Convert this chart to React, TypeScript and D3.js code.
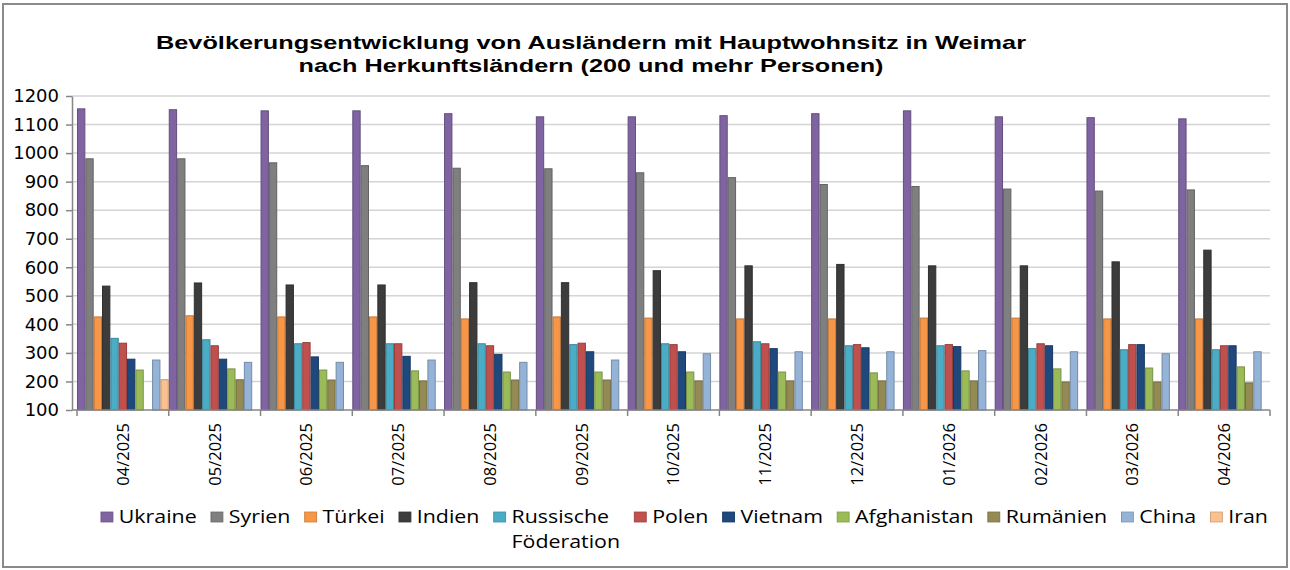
import React, { useEffect, useRef } from "react";
import * as d3 from "d3";

// Monate (Kategorien)
const months = [
  "04/2025", "05/2025", "06/2025", "07/2025", "08/2025", "09/2025", "10/2025",
  "11/2025", "12/2025", "01/2026", "02/2026", "03/2026", "04/2026",
];

const countries = [
  "Ukraine", "Syrien", "Türkei", "Indien", "Russische Föderation", "Polen",
  "Vietnam", "Afghanistan", "Rumänien", "China", "Iran",
];

// Werte je Herkunftsland
const ukraine = [1155, 1152, 1148, 1148, 1138, 1127, 1127, 1131, 1138, 1148, 1127, 1124, 1120];
const syrien = [980, 980, 966, 956, 947, 945, 931, 914, 890, 883, 874, 867, 871];
const tuerkei = [426, 430, 426, 426, 419, 426, 422, 419, 419, 422, 422, 419, 419];
const indien = [534, 545, 538, 538, 546, 546, 588, 605, 610, 605, 605, 619, 660];
const russland = [351, 346, 332, 332, 332, 329, 332, 339, 325, 325, 315, 311, 311];
const polen = [334, 325, 336, 332, 325, 334, 329, 332, 329, 329, 332, 329, 325];
const vietnam = [278, 278, 286, 288, 295, 304, 304, 315, 318, 322, 325, 329, 325];
const afghanistan = [240, 244, 240, 237, 233, 233, 233, 233, 230, 237, 244, 247, 251];
const rumaenien = [null, 206, 205, 202, 205, 205, 202, 202, 202, 202, 198, 198, 195];
const china = [275, 267, 267, 275, 267, 275, 297, 304, 304, 308, 304, 297, 304];
const iran = [206, null, null, null, null, null, null, null, null, null, null, null, null];

const seriesValues: (number | null)[][] = [
  ukraine, syrien, tuerkei, indien, russland, polen, vietnam, afghanistan, rumaenien, china, iran,
];

const colors = [
  "#8064A2", "#7F7F7F", "#F79646", "#3C3C3C", "#4BACC6", "#C0504D",
  "#1F497D", "#9BBB59", "#948A54", "#95B3D7", "#FAC090",
];

const yTicks = [100, 200, 300, 400, 500, 600, 700, 800, 900, 1000, 1100, 1200];

const titleLines = [
  "Bevölkerungsentwicklung von Ausländern mit Hauptwohnsitz in Weimar",
  "nach Herkunftsländern (200 und mehr Personen)",
];

const W = 1290;
const H = 570;

export default function App() {
  const svgRef = useRef<SVGSVGElement>(null);

  useEffect(() => {
    document.body.style.margin = "0";
    const svg = d3.select(svgRef.current);
    svg.selectAll("*").remove();

    const plotLeft = 77, plotRight = 1270, axisX = 72;
    const x0 = d3.scaleBand().domain(months).range([plotLeft, plotRight]).padding(0);
    const x1 = d3.scaleBand().domain(countries).range([0, x0.bandwidth()]).padding(0);
    const y = d3.scaleLinear().domain([100, 1200]).range([410, 96]);

    // Rahmen
    svg.append("rect")
      .attr("x", 3).attr("y", 4).attr("width", W - 6).attr("height", H - 7)
      .attr("fill", "#fff").attr("stroke", "#8a8a8a").attr("stroke-width", 2);

    // Titel
    svg.append("g")
      .selectAll("text")
      .data(titleLines)
      .join("text")
      .attr("x", 591)
      .attr("y", (d, i) => 49 + i * 23)
      .attr("text-anchor", "middle")
      .attr("font-family", "'Liberation Sans', Arial, sans-serif")
      .attr("font-weight", "bold")
      .attr("font-size", 19)
      .attr("textLength", (d, i) => (i === 0 ? 870 : 585))
      .attr("lengthAdjust", "spacingAndGlyphs")
      .text((d) => d);

    // Gitterlinien
    svg.append("g")
      .selectAll("line")
      .data(yTicks.slice(1))
      .join("line")
      .attr("x1", axisX).attr("x2", plotRight)
      .attr("y1", (d) => y(d)).attr("y2", (d) => y(d))
      .attr("stroke", "#d4d4d4").attr("stroke-width", 1.5);

    // Balken
    const groups = svg.append("g")
      .selectAll("g")
      .data(countries)
      .join("g")
      .attr("fill", (d, i) => colors[i])
      .attr("stroke", (d, i) => d3.color(colors[i])!.darker(0.7).formatHex());

    groups.selectAll("rect")
      .data((c, i) =>
        months
          .map((m, j) => ({ c, m, v: seriesValues[i][j] }))
          .filter((d) => d.v != null)
      )
      .join("rect")
      .attr("x", (d) => x0(d.m)! + x1(d.c)! + 0.5)
      .attr("width", x1.bandwidth() - 1)
      .attr("y", (d) => y(d.v as number))
      .attr("height", (d) => y(100) - y(d.v as number))
      .attr("stroke-width", 1);

    // Y-Achse
    const yAxis = svg.append("g")
      .attr("transform", `translate(${axisX},0)`)
      .call(d3.axisLeft(y).tickValues(yTicks).tickSize(6).tickSizeOuter(0).tickPadding(7).tickFormat(d3.format("d")));
    yAxis.select(".domain").attr("stroke", "#868686").attr("stroke-width", 1.5);
    yAxis.selectAll(".tick line").attr("stroke", "#868686").attr("stroke-width", 1.5);
    yAxis.selectAll("text")
      .attr("font-family", "'DejaVu Sans', Verdana, sans-serif")
      .attr("font-size", 18)
      .attr("fill", "#000");

    // X-Achse
    svg.append("line")
      .attr("x1", axisX).attr("x2", plotRight)
      .attr("y1", y(100)).attr("y2", y(100))
      .attr("stroke", "#868686").attr("stroke-width", 1.5);
    const boundaries = [...months.map((m) => x0(m)!), plotRight];
    svg.append("g")
      .selectAll("line")
      .data(boundaries)
      .join("line")
      .attr("x1", (d) => d).attr("x2", (d) => d)
      .attr("y1", y(100)).attr("y2", y(100) + 6)
      .attr("stroke", "#868686").attr("stroke-width", 1.5);

    svg.append("g")
      .selectAll("text")
      .data(months)
      .join("text")
      .attr("transform", (m) => `translate(${x0(m)! + x0.bandwidth() / 2},423) rotate(-90)`)
      .attr("dy", "0.36em")
      .attr("text-anchor", "end")
      .attr("font-family", "'Open Sans', sans-serif")
      .attr("font-size", 16.5)
      .attr("fill", "#000")
      .text((m) => m);

    // Legende
    const legendLeft = 101, legendRight = 1268, rowY = 523, lineGap = 25;
    const box = 10, boxGap = 5, itemGap = 12;
    const legend = svg.append("g");
    const inner = legend.append("g");
    let cx = 0;
    countries.forEach((c, i) => {
      const item = inner.append("g").attr("transform", `translate(${cx},0)`);
      item.append("rect")
        .attr("x", 0).attr("y", rowY - 11).attr("width", box).attr("height", box)
        .attr("fill", colors[i])
        .attr("stroke", d3.color(colors[i])!.darker(0.5).formatHex())
        .attr("stroke-width", 0.8);
      const lines = c === "Russische Föderation" ? ["Russische", "Föderation"] : [c];
      let maxW = 0;
      lines.forEach((l, k) => {
        const t = item.append("text")
          .attr("x", box + boxGap)
          .attr("y", rowY + k * lineGap)
          .attr("font-family", "'Open Sans', sans-serif")
          .attr("font-size", 18)
          .attr("fill", "#000")
          .text(l);
        maxW = Math.max(maxW, (t.node() as SVGTextElement).getComputedTextLength());
      });
      cx += box + boxGap + maxW + (i < countries.length - 1 ? itemGap : 0);
    });
    const sx = (legendRight - legendLeft) / cx;
    legend.attr("transform", `translate(${legendLeft},0)`);
    inner.attr("transform", `scale(${sx},1)`);
  }, []);

  return <svg ref={svgRef} width={W} height={H} style={{ display: "block" }} />;
}
